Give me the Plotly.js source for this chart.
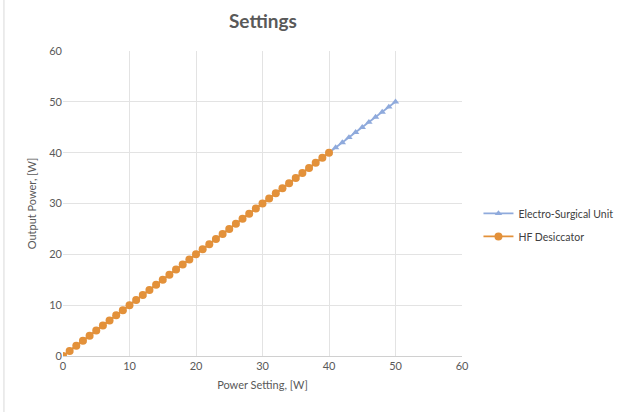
<!DOCTYPE html>
<html><head><meta charset="utf-8">
<script src="https://cdn.plot.ly/plotly-3.0.1.min.js"></script>
<style>body{margin:0;background:#fff}#c{width:623px;height:412px}</style>
</head><body><div id="c"></div>
<script>
var esuSetting = [0,1,2,3,4,5,6,7,8,9,10,11,12,13,14,15,16,17,18,19,20,21,22,23,24,25,26,27,28,29,30,31,32,33,34,35,36,37,38,39,40,41,42,43,44,45,46,47,48,49,50];
var esuOutput  = [0,1,2,3,4,5,6,7,8,9,10,11,12,13,14,15,16,17,18,19,20,21,22,23,24,25,26,27,28,29,30,31,32,33,34,35,36,37,38,39,40,41,42,43,44,45,46,47,48,49,50];
var hfSetting = [0,1,2,3,4,5,6,7,8,9,10,11,12,13,14,15,16,17,18,19,20,21,22,23,24,25,26,27,28,29,30,31,32,33,34,35,36,37,38,39,40];
var hfOutput  = [0,1,2,3,4,5,6,7,8,9,10,11,12,13,14,15,16,17,18,19,20,21,22,23,24,25,26,27,28,29,30,31,32,33,34,35,36,37,38,39,40];
var seriesNames = ["Electro-Surgical Unit", "HF Desiccator"];
var titleLine1 = "Output Power of the Units at Different Power";
var titleLine2 = "Settings";
var xTitle = "Power Setting, [W]";
var yTitle = "Output Power, [W]";

var F = "Lato, 'Open Sans', sans-serif";
var grey = "#595959";
var traces = [
  {x: esuSetting, y: esuOutput, name: seriesNames[0], legendgroup: "a", mode: "lines+markers",
   line: {color: "#8FAADC", width: 1.8}, marker: {symbol: "triangle-up", size: 6.5, color: "#8FAADC"}},
  {x: hfSetting, y: hfOutput, name: seriesNames[1], legendgroup: "b", mode: "lines+markers",
   line: {color: "#E3913A", width: 1.8}, marker: {symbol: "circle", size: 8, color: "#E3913A"}}
];
var layout = {
  width: 623, height: 412,
  margin: {l: 63, r: 161, t: 51, b: 56, autoexpand: false},
  paper_bgcolor: "#fff", plot_bgcolor: "#fff",
  font: {family: F, color: grey, size: 11},
  title: {text: titleLine2, font: {family: F, size: 19, color: grey, weight: "bold"},
          x: 0.422, xanchor: "center", y: 0.948, yanchor: "middle", xref: "container", yref: "container"},
  xaxis: {range: [0, 60], dtick: 10, showgrid: true, gridcolor: "#e3e3e3", gridwidth: 1,
          zeroline: false, showline: true, linecolor: "#d0d0d0", ticks: "", fixedrange: true, automargin: false,
          tickfont: {size: 11, color: grey}, title: {text: xTitle, font: {size: 11, color: grey}, standoff: 10}},
  yaxis: {range: [0, 60], dtick: 10, showgrid: true, gridcolor: "#e3e3e3", gridwidth: 1,
          zeroline: false, showline: false, ticks: "", fixedrange: true, automargin: false,
          tickfont: {size: 11, color: grey}, title: {text: yTitle, font: {size: 11, color: grey}, standoff: 10}},
  legend: {xref: "container", yref: "container", x: 0.768, xanchor: "left", y: 0.454, yanchor: "middle",
           font: {size: 10.5, color: "#404040"}, tracegroupgap: 4, itemwidth: 30, bgcolor: "rgba(0,0,0,0)"},
  showlegend: true,
  annotations: [{text: titleLine1, xref: "paper", yref: "paper", x: 0.5, y: 1.156, xanchor: "center", yanchor: "bottom",
                 showarrow: false, font: {family: F, size: 19, color: grey, weight: "bold"}}],
  shapes: [{type: "line", xref: "paper", yref: "paper", x0: -0.148, x1: -0.148, y0: -0.2, y1: 1.2,
            line: {color: "#d9d9d9", width: 1}}]
};
Plotly.newPlot("c", traces, layout, {displayModeBar: false, staticPlot: true});
</script></body></html>
